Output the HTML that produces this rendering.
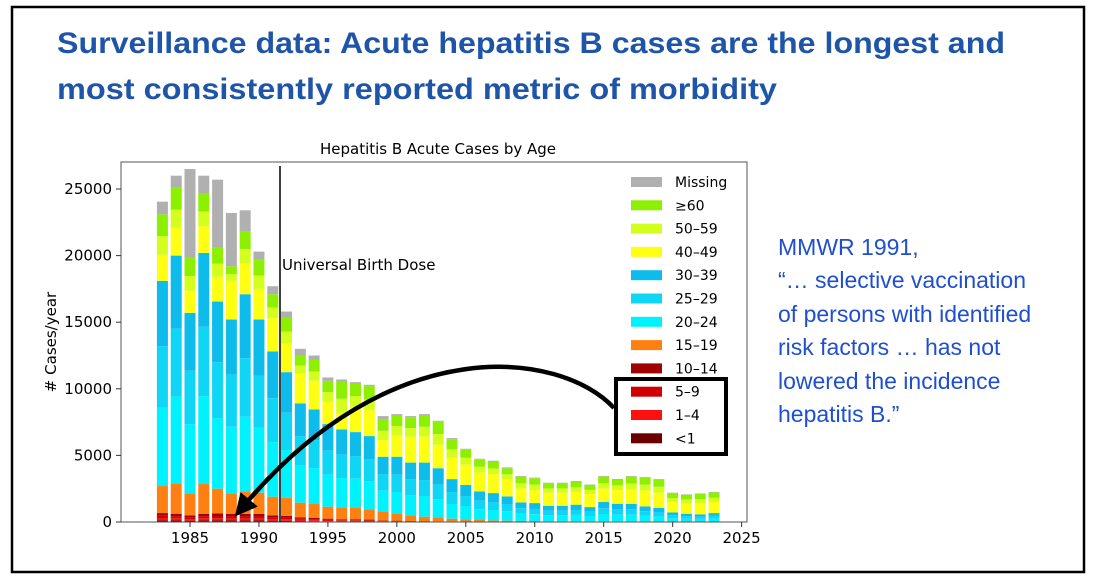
<!DOCTYPE html>
<html><head><meta charset="utf-8"><style>
html,body{margin:0;padding:0;background:#fff;}
svg{display:block;}
</style></head><body>
<svg id="chart" width="1100" height="580" xmlns="http://www.w3.org/2000/svg">
<rect x="12" y="7" width="1072" height="565" fill="#fff" stroke="#000" stroke-width="2.5"/>
<text x="57" y="53" font-family="Liberation Sans, sans-serif" font-weight="bold" font-size="30" fill="#1f55a8" textLength="948" lengthAdjust="spacingAndGlyphs">Surveillance data: Acute hepatitis B cases are the  longest and</text>
<text x="57" y="99" font-family="Liberation Sans, sans-serif" font-weight="bold" font-size="30" fill="#1f55a8" textLength="720" lengthAdjust="spacingAndGlyphs">most consistently reported metric of morbidity</text>
<text x="438" y="154" text-anchor="middle" font-family="DejaVu Sans, sans-serif" font-size="15" fill="#000">Hepatitis B Acute Cases by Age</text>
<text transform="translate(56,342) rotate(-90)" text-anchor="middle" font-family="DejaVu Sans, sans-serif" font-size="15" fill="#000"># Cases/year</text>
<g id="bars"></g>
<rect x="121" y="162" width="626" height="360" fill="none" stroke="#555" stroke-width="1"/>
<g id="ticks"></g>
<line x1="280" y1="166" x2="280" y2="522" stroke="#000" stroke-width="1.5"/>
<text x="282" y="270" font-family="DejaVu Sans, sans-serif" font-size="15" fill="#000">Universal Birth Dose</text>
<g id="legend"></g>
<rect x="616" y="379" width="110" height="75" fill="none" stroke="#000" stroke-width="4"/>
<defs><marker id="ah" markerWidth="5" markerHeight="5" refX="2.5" refY="2.5" orient="auto"><path d="M0,0 L5,2.5 L0,5 z" fill="#000"/></marker></defs>
<path d="M614,408 C560,350 390,330 242,508" fill="none" stroke="#000" stroke-width="4.5" marker-end="url(#ah)"/>
<g font-family="Liberation Sans, sans-serif" font-size="23" fill="#1f4fd0">
<text x="778" y="255">MMWR 1991,</text>
<text x="778" y="288">“… selective vaccination</text>
<text x="778" y="322">of persons with identified</text>
<text x="778" y="355">risk factors … has not</text>
<text x="778" y="389">lowered the incidence</text>
<text x="778" y="422">hepatitis B.”</text>
</g>
</svg>
<script>
const years=[1983,1984,1985,1986,1987,1988,1989,1990,1991,1992,1993,1994,1995,1996,1997,1998,1999,2000,2001,2002,2003,2004,2005,2006,2007,2008,2009,2010,2011,2012,2013,2014,2015,2016,2017,2018,2019,2020,2021,2022,2023];
const ageLt1=[130,120,100,120,130,120,120,120,100,90,70,60,50,40,40,35,25,20,15,15,10,8,5,4,4,3,2,2,2,2,2,2,2,2,2,2,2,1,1,1,1];
const age1to4=[170,160,120,160,160,150,150,150,120,110,90,75,60,50,50,45,30,25,20,15,10,10,8,5,5,4,2,2,2,2,2,2,2,2,2,2,2,1,1,1,1];
const age5to9=[170,150,130,150,160,150,150,150,130,110,90,75,60,50,50,45,30,25,20,20,15,10,8,5,5,4,3,3,3,3,3,3,3,3,3,3,3,1,1,1,1];
const age10to14=[200,190,150,190,200,180,180,180,150,140,100,90,80,60,60,55,35,30,25,20,15,12,9,6,6,4,3,3,3,3,3,3,3,3,3,3,3,2,2,2,2];
const age15to19=[2030,2280,1650,2230,1850,1550,1700,1600,1400,1350,1100,1050,900,900,850,770,680,550,420,330,250,210,170,130,100,85,70,60,50,50,40,40,40,40,40,40,30,25,25,25,25];
const age20to24=[5900,6500,5200,6600,5300,5000,5600,4900,4100,3600,2800,2700,2400,2200,2200,2100,1550,1600,1500,1550,1400,1100,1000,800,780,700,530,510,440,440,480,400,550,500,500,430,380,260,220,200,240];
const age25to29=[4600,5100,4000,5200,4200,3900,4400,3900,3300,2800,2200,2100,1800,1750,1700,1650,1250,1300,1200,1200,1100,900,750,650,600,550,420,400,350,350,370,320,430,400,400,330,300,210,180,160,190];
const age30to39=[4900,5500,4350,5550,4550,4150,4800,4200,3500,3050,2450,2300,2000,1900,1800,1750,1300,1350,1260,1310,1240,970,840,690,670,570,440,440,370,370,400,350,470,420,420,360,330,220,190,180,210];
const age40to49=[1960,2100,1660,2000,1850,2900,2300,2300,2500,2150,2250,2150,1700,1200,1900,1950,1250,1600,1940,1940,1760,1590,1510,1410,1430,1280,1030,980,980,980,950,980,1000,1030,1080,1180,1150,780,780,830,830];
const age50to59=[1400,1350,1100,1100,1000,500,1100,1000,800,900,600,700,700,1100,800,800,700,700,650,750,800,650,520,450,420,380,410,400,320,320,350,310,410,350,430,450,450,300,290,320,320];
const age60plus=[1640,1650,1400,1400,1200,600,1300,1200,1000,1050,750,900,850,1300,950,1000,850,800,810,880,930,750,640,560,520,460,500,490,400,400,440,380,500,440,530,540,540,370,360,400,400];
const missing=[950,900,6640,1300,5100,4000,1600,600,600,450,500,300,250,150,100,100,250,100,90,70,70,90,40,40,60,60,40,40,30,30,40,30,40,40,40,30,30,30,30,30,30];
const seriesLabels=['<1','1–4','5–9','10–14','15–19','20–24','25–29','30–39','40–49','50–59','≥60','Missing'];
const yTicks=[0,5000,10000,15000,20000,25000];
const xTicks=[1985,1990,1995,2000,2005,2010,2015,2020,2025];

const series=[ageLt1,age1to4,age5to9,age10to14,age15to19,age20to24,age25to29,age30to39,age40to49,age50to59,age60plus,missing];
const colors=['#6a0000','#ff1010','#d00000','#a00000','#ff8012','#00f2fc','#10d6f6','#0ebcec','#ffff14','#d4ff1e','#8cf000','#b0b0b0'];
const NS='http://www.w3.org/2000/svg';
function xs(v){return 190+(v-1985)*13.79;}
function ys(v){return 522-v*333/25000;}
const bars=document.getElementById('bars');
years.forEach((yr,i)=>{
  let cum=0;
  series.forEach((s,k)=>{
    const r=document.createElementNS(NS,'rect');
    const y0=ys(cum), y1=ys(cum+s[i]);
    r.setAttribute('x',xs(yr)-5.5);
    r.setAttribute('width',11);
    r.setAttribute('y',y1);
    r.setAttribute('height',Math.max(0,y0-y1));
    r.setAttribute('fill',colors[k]);
    
    
    bars.appendChild(r);
    cum+=s[i];
  });
});
const tk=document.getElementById('ticks');
yTicks.forEach(v=>{
  const l=document.createElementNS(NS,'line');
  l.setAttribute('x1',116);l.setAttribute('x2',121);l.setAttribute('y1',ys(v));l.setAttribute('y2',ys(v));l.setAttribute('stroke','#333');
  
  
  tk.appendChild(l);
  const t=document.createElementNS(NS,'text');
  t.setAttribute('x',112);t.setAttribute('y',ys(v)+5);t.setAttribute('text-anchor','end');
  t.setAttribute('font-family','DejaVu Sans, sans-serif');t.setAttribute('font-size','15');
  t.textContent=v;
  
  
  tk.appendChild(t);
});
xTicks.forEach(v=>{
  const l=document.createElementNS(NS,'line');
  l.setAttribute('x1',xs(v));l.setAttribute('x2',xs(v));l.setAttribute('y1',522);l.setAttribute('y2',527);l.setAttribute('stroke','#333');
  
  
  tk.appendChild(l);
  const t=document.createElementNS(NS,'text');
  t.setAttribute('x',xs(v));t.setAttribute('y',543);t.setAttribute('text-anchor','middle');
  t.setAttribute('font-family','DejaVu Sans, sans-serif');t.setAttribute('font-size','15');
  t.textContent=v;
  
  
  tk.appendChild(t);
});
const lg=document.getElementById('legend');
for(let k=series.length-1,row=0;k>=0;k--,row++){
  const cy=182+row*23.3;
  const r=document.createElementNS(NS,'rect');
  r.setAttribute('x',631);r.setAttribute('y',cy-5);r.setAttribute('width',31);r.setAttribute('height',10);r.setAttribute('fill',colors[k]);
  
  
  lg.appendChild(r);
  const t=document.createElementNS(NS,'text');
  t.setAttribute('x',675);t.setAttribute('y',cy+5);
  t.setAttribute('font-family','DejaVu Sans, sans-serif');t.setAttribute('font-size','14');
  t.textContent=seriesLabels[k];
  
  
  lg.appendChild(t);
}
</script>
</body></html>
